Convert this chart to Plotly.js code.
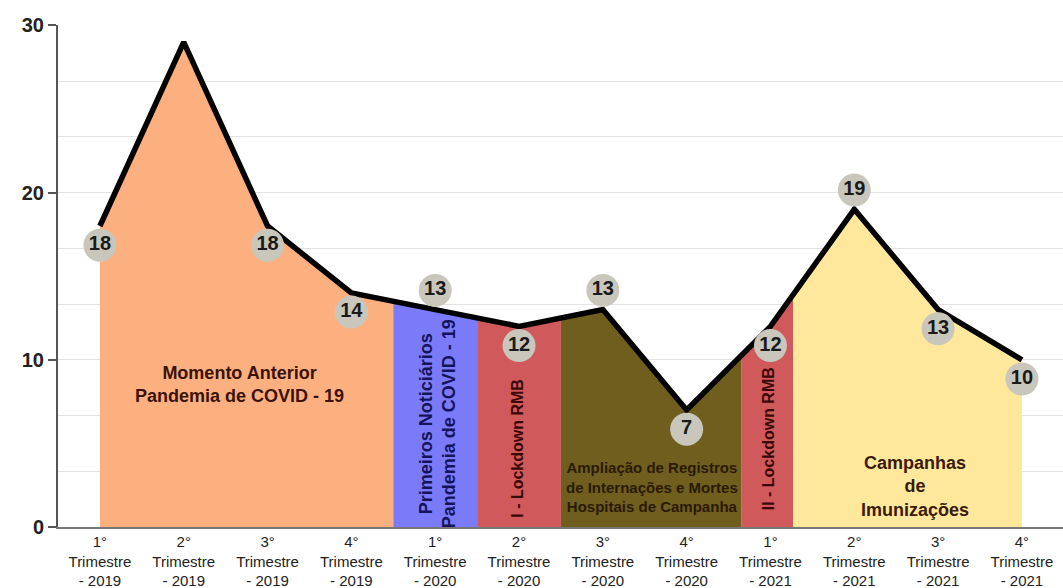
<!DOCTYPE html>
<html>
<head>
<meta charset="utf-8">
<script src="https://cdn.plot.ly/plotly-3.0.1.min.js"></script>
<style>html,body{margin:0;padding:0;background:#fff;}#chart{width:1063px;height:588px;}</style>
</head>
<body>
<div id="chart"></div>
<script>
// ---- data ----
const tickLabels = [
  '1°<br>Trimestre<br>- 2019', '2°<br>Trimestre<br>- 2019', '3°<br>Trimestre<br>- 2019', '4°<br>Trimestre<br>- 2019',
  '1°<br>Trimestre<br>- 2020', '2°<br>Trimestre<br>- 2020', '3°<br>Trimestre<br>- 2020', '4°<br>Trimestre<br>- 2020',
  '1°<br>Trimestre<br>- 2021', '2°<br>Trimestre<br>- 2021', '3°<br>Trimestre<br>- 2021', '4°<br>Trimestre<br>- 2021'
];
const values = [18, 29, 18, 14, 13, 12, 13, 7, 12, 19, 13, 10];
const labelSide = [-1, 1, -1, -1, 1, -1, 1, -1, -1, 1, -1, -1];

const regionNames = [
  'Momento Anterior<br>Pandemia de COVID - 19',
  'Primeiros Noticiários<br>Pandemia de COVID - 19',
  'I - Lockdown RMB',
  'Ampliação de Registros<br>de Internações e Mortes<br>Hospitais de Campanha',
  'II - Lockdown RMB',
  'Campanhas<br>de<br>Imunizações'
];
const regionStart = [0, 3.5, 4.5, 5.5, 7.65, 8.27];
const regionEnd   = [3.5, 4.5, 5.5, 7.65, 8.27, 11];
const regionColors = ['#FDB07F', '#7B7BFA', '#D05A5B', '#6F5E1E', '#D05A5B', '#FFE89C'];
const regionTextColors = ['#3A1208', '#14145A', '#3A0808', '#2A1A02', '#3A0808', '#3A1A08'];

// ---- helpers ----
const xs = values.map((v, i) => i);
function lineAt(x) {
  const i = Math.min(Math.floor(x), values.length - 2);
  const t = x - i;
  return values[i] + (values[i + 1] - values[i]) * t;
}
function regionPoints(a, b) {
  const px = [a];
  for (let i = Math.ceil(a); i <= Math.floor(b); i++) if (i > a && i < b) px.push(i);
  px.push(b);
  return {x: px, y: px.map(lineAt)};
}

const traces = [];
regionStart.forEach((s, k) => {
  const p = regionPoints(s, regionEnd[k]);
  traces.push({
    type: 'scatter', mode: 'lines', x: p.x, y: p.y, fill: 'tozeroy',
    fillcolor: regionColors[k], line: {width: 0, color: regionColors[k]},
    hoverinfo: 'skip', showlegend: false
  });
});
traces.push({
  type: 'scatter', mode: 'lines', x: xs, y: values,
  line: {color: '#000', width: 5.5}, showlegend: false
});
traces.push({
  type: 'scatter', mode: 'markers+text', x: xs,
  y: values.map((v, i) => v + labelSide[i] * 1.15),
  text: values.map(String), textposition: 'middle center',
  textfont: {family: 'Liberation Sans, Arial, sans-serif', size: 20, color: '#1a1a1a', weight: 'bold'},
  marker: {size: 33, color: '#C9C7BB', line: {width: 0}},
  cliponaxis: false, showlegend: false
});

const annPos = [
  {x: 1.67, y: 8.5, angle: 0, size: 18},
  {x: 4.02, y: 6.2, angle: -90, size: 18},
  {x: 4.98, y: 4.7, angle: -90, size: 16},
  {x: 6.59, y: 2.4, angle: 0, size: 15},
  {x: 7.97, y: 5.3, angle: -90, size: 16},
  {x: 9.73, y: 2.45, angle: 0, size: 18}
];
const annotations = regionNames.map((t, k) => ({
  x: annPos[k].x, y: annPos[k].y, xref: 'x', yref: 'y', text: '<b>' + t + '</b>',
  showarrow: false, textangle: annPos[k].angle,
  font: {family: 'Liberation Sans, Arial, sans-serif', size: annPos[k].size, color: regionTextColors[k]},
  align: 'center'
}));

const layout = {
  width: 1063, height: 588,
  margin: {l: 58, r: 0, t: 25, b: 61},
  paper_bgcolor: '#fff', plot_bgcolor: '#fff',
  showlegend: false,
  xaxis: {
    range: [-0.5, 11.49], tickmode: 'array', tickvals: xs, ticktext: tickLabels,
    showgrid: false, zeroline: false, showline: true, linecolor: '#777', linewidth: 2,
    ticks: '', tickfont: {family: 'Liberation Sans, Arial, sans-serif', size: 15, color: '#222'}
  },
  yaxis: {
    range: [0, 30.02], tickmode: 'array', tickvals: [0, 10, 20, 30],
    showgrid: true, gridcolor: '#e2e2e2', gridwidth: 1,
    minor: {dtick: 10 / 3, tick0: 0, showgrid: true, gridcolor: '#e2e2e2', gridwidth: 1},
    zeroline: false, showline: true, linecolor: '#555', linewidth: 2,
    ticks: 'outside', ticklen: 8, tickwidth: 2, tickcolor: '#555',
    tickfont: {family: 'Liberation Sans, Arial, sans-serif', size: 20, color: '#222', weight: 'bold'}
  },
  annotations: annotations
};

Plotly.newPlot('chart', traces, layout, {displayModeBar: false, staticPlot: true});
</script>
</body>
</html>
